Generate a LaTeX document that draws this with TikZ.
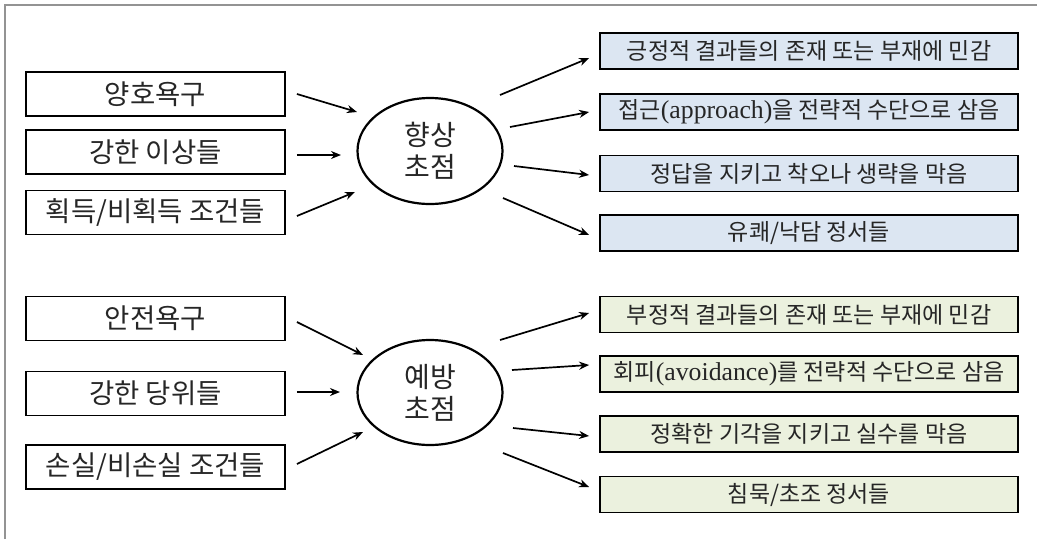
\documentclass[tikz,border=0pt]{standalone}
\usepackage{fontspec}
\setmainfont{Noto Sans CJK KR}
\newfontfamily\lat[Scale=1.12]{Liberation Serif}
\usetikzlibrary{arrows.meta,shapes.geometric}
\definecolor{bluefill}{HTML}{DCE6F2}
\definecolor{greenfill}{HTML}{EBF1DE}
\definecolor{txt}{HTML}{262626}
\begin{document}
\begin{tikzpicture}[x=1pt,y=-1pt,
  leftbox/.style={draw=black, line width=1.8pt, minimum width=259pt, minimum height=44pt,
    inner sep=0pt, text=txt, font=\fontsize{27.5}{30}\selectfont},
  rightbox/.style={draw=black, line width=1.8pt, minimum width=418pt, minimum height=36pt,
    inner sep=0pt, text=txt, font=\fontsize{23}{26}\selectfont},
  focus/.style={draw=black, line width=2.2pt, ellipse, minimum width=145pt, minimum height=106pt,
    inner sep=0pt, align=center, text=txt, font=\fontsize{28}{32}\selectfont},
  arr/.style={line width=1.7pt, -{Stealth[length=10pt,width=8pt]}}
]
\useasboundingbox (0,0) rectangle (1037,539);
\draw[gray!85, line width=1.5pt] (5,539) -- (5,5) -- (1037,5);

% top group
\node[leftbox] (L1) at (155.5,94) {양호욕구};
\node[leftbox] (L2) at (155.5,152) {강한 이상들};
\node[leftbox] (L3) at (155.5,212.5) {획득/비획득 조건들};
\node[focus] (E1) at (430,151) {향상\\초점};
\node[rightbox, fill=bluefill] (R1) at (809,51) {긍정적 결과들의 존재 또는 부재에 민감};
\node[rightbox, fill=bluefill] (R2) at (809,112) {접근{\lat (approach)}을 전략적 수단으로 삼음};
\node[rightbox, fill=bluefill] (R3) at (809,173.5) {정답을 지키고 착오나 생략을 막음};
\node[rightbox, fill=bluefill] (R4) at (809,233) {유쾌/낙담 정서들};

% bottom group
\node[leftbox] (M1) at (155.5,318.5) {안전욕구};
\node[leftbox] (M2) at (155.5,393.5) {강한 당위들};
\node[leftbox] (M3) at (155.5,467) {손실/비손실 조건들};
\node[focus, minimum height=105pt] (E2) at (430,392.5) {예방\\초점};
\node[rightbox, fill=greenfill] (S1) at (809,314.5) {부정적 결과들의 존재 또는 부재에 민감};
\node[rightbox, fill=greenfill] (S2) at (809,374) {회피{\lat (avoidance)}를 전략적 수단으로 삼음};
\node[rightbox, fill=greenfill] (S3) at (809,434) {정확한 기각을 지키고 실수를 막음};
\node[rightbox, fill=greenfill] (S4) at (809,494.5) {침묵/초조 정서들};

% arrows into focus ellipses
\draw[arr] ([shift={(11,0)}]L1.east) -- ([shift={(-73,-39)}]E1.center);
\draw[arr] ([shift={(11,3)}]L2.east) -- ([shift={(-89,4)}]E1.center);
\draw[arr] ([shift={(11,3.5)}]L3.east) -- ([shift={(-75,41)}]E1.center);
\draw[arr] ([shift={(11,3.5)}]M1.east) -- ([shift={(-67,-37.5)}]E2.center);
\draw[arr] ([shift={(11,-1.5)}]M2.east) -- ([shift={(-90,-0.5)}]E2.center);
\draw[arr] ([shift={(11,-3)}]M3.east) -- ([shift={(-67,39.5)}]E2.center);

% arrows out of focus ellipses
\draw[arr] ([shift={(70,-56)}]E1.center) -- ([shift={(-10,7)}]R1.west);
\draw[arr] ([shift={(80,-24)}]E1.center) -- ([shift={(-10,0)}]R2.west);
\draw[arr] ([shift={(84,15)}]E1.center) -- ([shift={(-10,1.5)}]R3.west);
\draw[arr] ([shift={(73,47)}]E1.center) -- ([shift={(-10,2)}]R4.west);
\draw[arr] ([shift={(70,-52.5)}]E2.center) -- ([shift={(-10,-1.5)}]S1.west);
\draw[arr] ([shift={(82,-22.5)}]E2.center) -- ([shift={(-10,-9)}]S2.west);
\draw[arr] ([shift={(83,35.5)}]E2.center) -- ([shift={(-10,2)}]S3.west);
\draw[arr] ([shift={(73,60.5)}]E2.center) -- ([shift={(-10,-7.5)}]S4.west);
\end{tikzpicture}
\end{document}
